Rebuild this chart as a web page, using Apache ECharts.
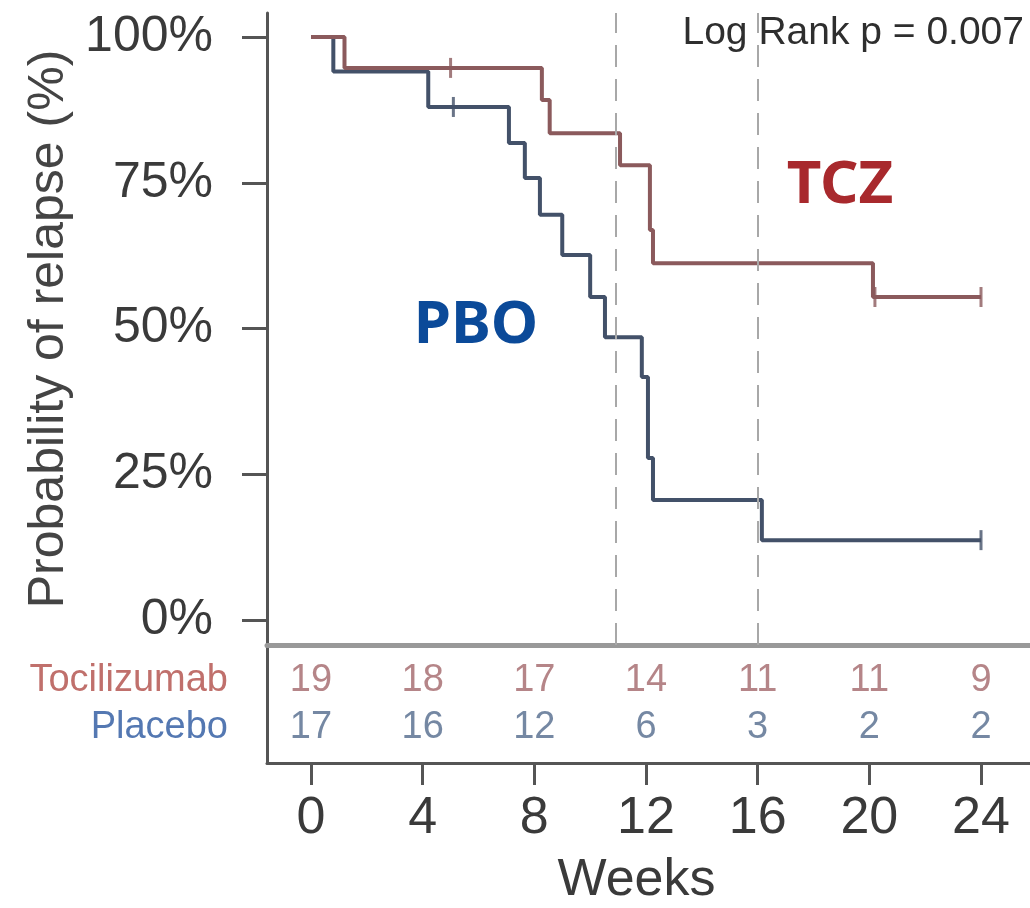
<!DOCTYPE html>
<html>
<head>
<meta charset="utf-8">
<script src="https://cdn.jsdelivr.net/npm/echarts@6/dist/echarts.min.js"></script>
<style>
  html, body { margin: 0; padding: 0; background: #ffffff; }
  #chart { width: 1030px; height: 908px; }
</style>
</head>
<body>
<div id="chart"></div>
<script>
// ---- data ----
const weekTicks = [0, 4, 8, 12, 16, 20, 24];
const pctTicks = [0, 25, 50, 75, 100];

const tczTime = [0, 1.2, 8.27, 8.55, 11.07, 12.14, 12.25, 20.13, 24];
const tczSurv = [100, 94.7, 89.2, 83.5, 78.0, 66.9, 61.2, 55.4, 55.4];
const pboTime = [0, 0.8, 4.2, 7.09, 7.66, 8.2, 9.0, 10.0, 10.53, 11.85, 12.07, 12.25, 16.15, 24];
const pboSurv = [100, 94.1, 88.0, 81.8, 75.8, 69.5, 62.6, 55.4, 48.5, 41.7, 27.8, 20.6, 13.7, 13.7];

const tczCensorTime = [5.0, 20.2, 24];
const tczCensorSurv = [94.7, 55.4, 55.4];
const pboCensorTime = [5.1, 24];
const pboCensorSurv = [88.0, 13.7];

const refWeeks = [10.9, 16.0];

const riskRows = ['Tocilizumab', 'Placebo'];
const tczAtRisk = [19, 18, 17, 14, 11, 11, 9];
const pboAtRisk = [17, 16, 12, 6, 3, 2, 2];

const annotation = 'Log Rank p = 0.007';
const groupLabels = ['TCZ', 'PBO'];
const yName = 'Probability of relapse (%)';
const xName = 'Weeks';

// ---- styling ----
const TCZ_LINE = '#8b5a5c';
const PBO_LINE = '#435169';
const TCZ_TEXT = '#c0706c';
const PBO_TEXT = '#5478b2';
const TCZ_NUM = '#a2676a';
const PBO_NUM = '#536a8c';
const AXIS = '#555555';
const FONT = '"Liberation Sans", Arial, sans-serif';

const xMin = -1.576, xMax = 25.755;
const yMin = -4.288, yMax = 104.117;
const ROW_TCZ = 3.5, ROW_PBO = 1.5;

const zip = (a, b) => a.map((v, i) => [v, b[i]]);

const chart = echarts.init(document.getElementById('chart'), null, { renderer: 'canvas' });

const option = {
  backgroundColor: '#ffffff',
  animation: false,
  grid: [
    { left: 267, top: 13, width: 763, height: 632 },
    { left: 267, top: 645, width: 763, height: 120 }
  ],
  xAxis: [
    {
      gridIndex: 0, type: 'value', min: xMin, max: xMax,
      axisLine: { show: true, onZero: false, lineStyle: { color: '#999999', width: 5 } },
      axisTick: { show: false }, axisLabel: { show: false }, splitLine: { show: false }
    },
    {
      gridIndex: 1, type: 'value', min: xMin, max: xMax,
      name: xName, nameLocation: 'middle', nameGap: 92,
      nameTextStyle: { fontSize: 52, color: '#3a3a3a', fontFamily: FONT, padding: [0, 24, 0, 0] },
      axisLine: { show: true, onZero: false, lineStyle: { color: AXIS, width: 3 } },
      axisTick: { show: true, customValues: weekTicks, length: 22, lineStyle: { color: AXIS, width: 3 } },
      axisLabel: { show: true, customValues: weekTicks, fontSize: 52, color: '#3a3a3a', fontFamily: FONT, margin: 30 },
      splitLine: { show: false }
    }
  ],
  yAxis: [
    {
      gridIndex: 0, type: 'value', min: yMin, max: yMax,
      name: yName, nameLocation: 'middle', nameGap: 193,
      nameTextStyle: { fontSize: 50, color: '#444444', fontFamily: FONT },
      axisLine: { show: true, onZero: false, lineStyle: { color: AXIS, width: 3 } },
      axisTick: { show: true, customValues: pctTicks, length: 25, lineStyle: { color: AXIS, width: 3 } },
      axisLabel: { show: true, customValues: pctTicks, formatter: v => v + '%', fontSize: 50, color: '#3a3a3a', fontFamily: FONT, margin: 54 },
      splitLine: { show: false }
    },
    {
      gridIndex: 1, type: 'value', min: 0, max: 5,
      axisLine: { show: true, onZero: false, lineStyle: { color: AXIS, width: 3 } },
      axisTick: { show: false },
      axisLabel: {
        show: true, customValues: [ROW_PBO, ROW_TCZ], margin: 39,
        formatter: v => v === ROW_TCZ ? '{t|' + riskRows[0] + '}' : '{p|' + riskRows[1] + '}',
        rich: {
          t: { fontSize: 38, color: TCZ_TEXT, fontFamily: FONT },
          p: { fontSize: 38, color: PBO_TEXT, fontFamily: FONT }
        }
      },
      splitLine: { show: false }
    }
  ],
  series: [
    {
      name: 'refs', type: 'line', xAxisIndex: 0, yAxisIndex: 0, data: [], silent: true,
      markLine: {
        symbol: 'none', silent: true, label: { show: false },
        lineStyle: { color: '#a8a8a8', width: 2, type: [22, 12] },
        data: refWeeks.map(w => ({ xAxis: w }))
      }
    },
    {
      name: 'PBO', type: 'line', step: 'end', xAxisIndex: 0, yAxisIndex: 0,
      data: zip(pboTime, pboSurv), symbol: 'none',
      lineStyle: { color: PBO_LINE, width: 4 }
    },
    {
      name: 'TCZ', type: 'line', step: 'end', xAxisIndex: 0, yAxisIndex: 0,
      data: zip(tczTime, tczSurv), symbol: 'none',
      lineStyle: { color: TCZ_LINE, width: 4 }
    },
    {
      name: 'PBO censor', type: 'scatter', xAxisIndex: 0, yAxisIndex: 0,
      data: zip(pboCensorTime, pboCensorSurv), symbol: 'rect', symbolSize: [3, 20],
      itemStyle: { color: PBO_LINE }
    },
    {
      name: 'TCZ censor', type: 'scatter', xAxisIndex: 0, yAxisIndex: 0,
      data: zip(tczCensorTime, tczCensorSurv), symbol: 'rect', symbolSize: [3, 20],
      itemStyle: { color: TCZ_LINE }
    },
    {
      name: 'TCZ at risk', type: 'scatter', xAxisIndex: 1, yAxisIndex: 1,
      data: weekTicks.map((w, i) => [w, ROW_TCZ, tczAtRisk[i]]),
      symbolSize: 1, itemStyle: { color: 'rgba(0,0,0,0)' },
      label: { show: true, position: 'inside', formatter: p => String(p.value[2]), fontSize: 38, color: TCZ_NUM, fontFamily: FONT }
    },
    {
      name: 'PBO at risk', type: 'scatter', xAxisIndex: 1, yAxisIndex: 1,
      data: weekTicks.map((w, i) => [w, ROW_PBO, pboAtRisk[i]]),
      symbolSize: 1, itemStyle: { color: 'rgba(0,0,0,0)' },
      label: { show: true, position: 'inside', formatter: p => String(p.value[2]), fontSize: 38, color: PBO_NUM, fontFamily: FONT }
    }
  ],
  graphic: [
    {
      type: 'text', right: 6, top: 14,
      style: { text: annotation, fontSize: 39, fill: '#2e2e2e', fontFamily: FONT }
    },
    {
      type: 'text', x: 840, y: 186,
      style: { text: groupLabels[0], fontSize: 60, fontWeight: 'bold', fill: '#a8292d', fontFamily: '"Noto Sans", sans-serif', align: 'center', verticalAlign: 'middle' }
    },
    {
      type: 'text', x: 476, y: 326,
      style: { text: groupLabels[1], fontSize: 60, fontWeight: 'bold', fill: '#0b4a99', fontFamily: '"Noto Sans", sans-serif', align: 'center', verticalAlign: 'middle' }
    }
  ]
};

chart.setOption(option);
</script>
</body>
</html>
